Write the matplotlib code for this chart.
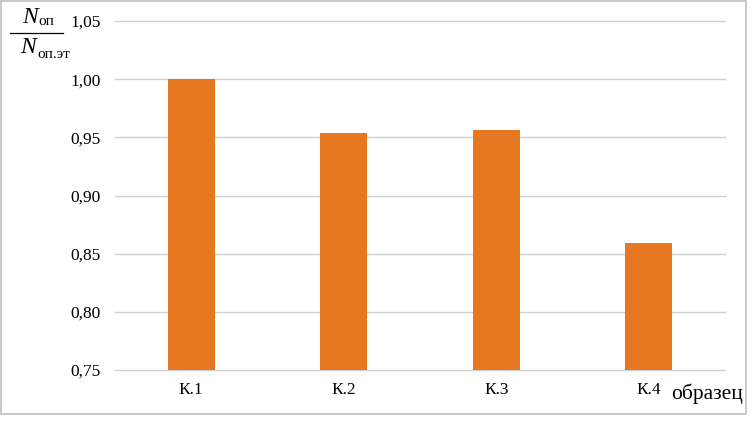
import matplotlib.pyplot as plt
from matplotlib.patches import Rectangle
from matplotlib.lines import Line2D

plt.rcParams["font.family"] = ["Liberation Serif", "DejaVu Serif"]

samples = ["К.1", "К.2", "К.3", "К.4"]
ratio = [1.000, 0.954, 0.956, 0.859]
y_ticks = [0.75, 0.80, 0.85, 0.90, 0.95, 1.00, 1.05]

W, H = 754, 424
fig = plt.figure(figsize=(W / 100, H / 100), dpi=100)
ax = fig.add_axes([115 / W, (H - 370) / H, 610 / W, 349 / H])

ax.bar(range(len(samples)), ratio, width=0.31, color="#E87722", zorder=3)

ax.set_xlim(-0.5, len(samples) - 0.5)
ax.set_ylim(0.75, 1.05)
ax.set_yticks(y_ticks)
ax.set_yticklabels([f"{v:.2f}".replace(".", ",") for v in y_ticks], fontsize=12.5)
ax.set_xticks(range(len(samples)))
ax.set_xticklabels(samples, fontsize=12.5)
ax.tick_params(axis="both", length=0)
ax.tick_params(axis="y", pad=10.5)
ax.tick_params(axis="x", pad=9)
ax.grid(axis="y", color="#D0D0D0", linewidth=1.0, zorder=0)
for gl in ax.get_ygridlines():
    gl.set_clip_on(False)
for s in ax.spines.values():
    s.set_visible(False)

# x axis name
fig.text(671 / W, 1 - 394 / H, "образец", fontsize=15.5, va="center", ha="left")


# y axis name as a fraction N_оп / N_оп.эт
def px(x, y):
    return x / W, 1 - y / H


fig.text(*px(30, 23), "N", fontsize=17, style="italic", ha="center", va="baseline")
fig.text(*px(38, 25), "оп", fontsize=11, ha="left", va="baseline")
fig.lines.append(Line2D([10 / W, 63 / W], [1 - 33 / H, 1 - 33 / H],
                        transform=fig.transFigure, color="black", linewidth=0.9))
fig.text(*px(28.5, 53), "N", fontsize=17, style="italic", ha="center", va="baseline")
fig.text(*px(37, 58), "оп.эт", fontsize=11, ha="left", va="baseline")

# outer frame
fig.patches.append(Rectangle((0.5 / W, 1 - 413.5 / H), 745 / W, 413 / H,
                             transform=fig.transFigure, fill=False,
                             edgecolor="#BFBFBF", linewidth=1.2))

fig.savefig("out.png", dpi=100)
